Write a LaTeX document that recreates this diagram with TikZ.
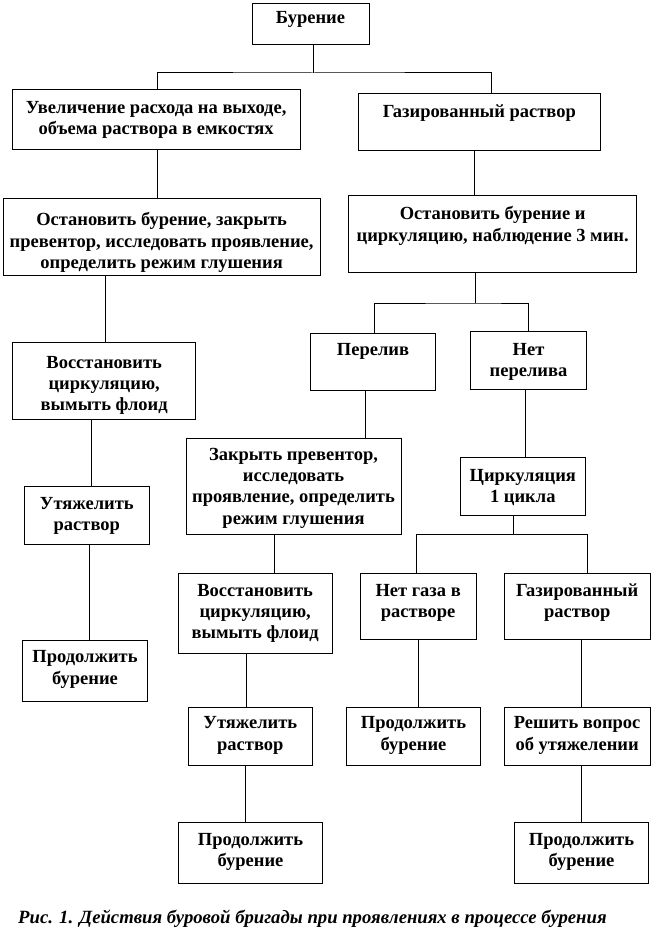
\documentclass[tikz,border=0pt]{standalone}
\usepackage{fontspec}
\setmainfont{Liberation Serif}
\newcommand\bx[7]{%
  \node[boxst, minimum width={(#4-#2)*1pt}, minimum height={(#5-#3)*1pt}] (#1) at ({(#2+#4)/2},{(#3+#5)/2}) {};
  \node[txt] (#1t) at ({(#2+#4)/2},{#6-15}) {\rule{0pt}{15pt}#7};
}
\begin{document}
\begin{tikzpicture}[x=1pt,y=-1pt,
  boxst/.style={draw, line width=1pt, inner sep=0pt, rectangle},
  txt/.style={anchor=north, inner sep=0pt, align=center, font=\fontsize{18.5}{21.3}\selectfont\bfseries},
  conn/.style={line width=1pt}]
\useasboundingbox (0,0) rectangle (652,944);
\bx{b1}{252}{3.3}{369}{45}{23.5}{Бурение}
\bx{b2}{12.3}{89.3}{300}{149.5}{113.5}{Увеличение расхода на выходе,\\объема раствора в емкостях}
\bx{b3}{358.7}{94}{600}{151}{117}{Газированный раствор}
\bx{b4}{3.3}{198.5}{320}{275.5}{225.5}{Остановить бурение, закрыть\\превентор, исследовать проявление,\\определить режим глушения}
\bx{b5}{348.7}{195.7}{636.7}{272}{219.5}{Остановить бурение и\\циркуляцию, наблюдение 3 мин.}
\bx{b6}{310.7}{333.3}{435.3}{390}{355}{Перелив}
\bx{b7}{470.3}{331.7}{586.7}{389.3}{355}{Нет\\перелива}
\bx{b8}{12.7}{342.7}{195.7}{419}{368}{Восстановить\\циркуляцию,\\вымыть флоид}
\bx{b9}{24.3}{486.5}{149.3}{544.5}{509}{Утяжелить\\раствор}
\bx{b10}{22.7}{640}{147.3}{701}{662.5}{Продолжить\\бурение}
\bx{b11}{186}{438.7}{401}{534.3}{460}{Закрыть превентор,\\исследовать\\проявление, определить\\режим глушения}
\bx{b12}{460.3}{457}{585.3}{515.3}{481}{Циркуляция\\1 цикла}
\bx{b13}{178.3}{573}{332}{653}{596}{Восстановить\\циркуляцию,\\вымыть флоид}
\bx{b14}{360.3}{573}{476}{639.7}{596}{Нет газа в\\растворе}
\bx{b15}{504.3}{573}{650}{639.7}{596}{Газированный\\раствор}
\bx{b16}{188.3}{707}{312.3}{765.3}{728.5}{Утяжелить\\раствор}
\bx{b17}{346.7}{707}{480.3}{765.3}{728.5}{Продолжить\\бурение}
\bx{b18}{504.3}{707}{650}{765.3}{728.5}{Решить вопрос\\об утяжелении}
\bx{b19}{178.3}{822.3}{322.7}{883}{845}{Продолжить\\бурение}
\bx{b20}{514.3}{822.3}{648.7}{883}{845}{Продолжить\\бурение}
% connectors
\coordinate (j1) at (313,73);
\coordinate (j2) at (475,303);
\coordinate (j3) at (513.3,534.3);
\draw[conn] (b1.south -| j1) -- (j1);
\draw[conn] (b2.north -| 157,0) |- (j1) -| (b3.north -| 491.5,0);
\draw[conn] (b2.south -| 157,0) -- (b4.north -| 157,0);
\draw[conn] (b3.south -| 474,0) -- (b5.north -| 474,0);
\draw[conn] (b5.south -| j2) -- (j2);
\draw[conn] (b6.north -| 374.7,0) |- (j2) -| (b7.north -| 528.3,0);
\draw[conn] (b4.south -| 105,0) -- (b8.north -| 105,0);
\draw[conn] (b8.south -| 91.5,0) -- (b9.north -| 91.5,0);
\draw[conn] (b9.south -| 89.5,0) -- (b10.north -| 89.5,0);
\draw[conn] (b6.south -| 365.3,0) -- (b11.north -| 365.3,0);
\draw[conn] (b7.south -| 525.3,0) -- (b12.north -| 525.3,0);
\draw[conn] (b11.south -| 274.3,0) -- (b13.north -| 274.3,0);
\draw[conn] (b12.south -| j3) -- (j3);
\draw[conn] (b14.north -| 416.7,0) |- (j3) -| (b15.north -| 587,0);
\draw[conn] (b13.south -| 246,0) -- (b16.north -| 246,0);
\draw[conn] (b14.south -| 418.3,0) -- (b17.north -| 418.3,0);
\draw[conn] (b15.south -| 581.7,0) -- (b18.north -| 581.7,0);
\draw[conn] (b16.south -| 245.7,0) -- (b19.north -| 245.7,0);
\draw[conn] (b18.south -| 581.7,0) -- (b20.north -| 581.7,0);
% caption
\node[anchor=base west, inner sep=0pt, font=\fontsize{18.7}{21}\selectfont\bfseries\itshape] (cap) at (18,923) {Рис. 1. Действия буровой бригады при проявлениях в процессе бурения};
\end{tikzpicture}
\end{document}
